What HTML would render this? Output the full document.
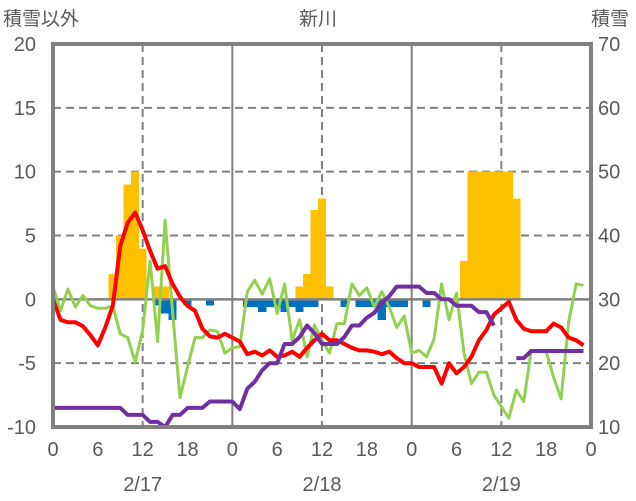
<!DOCTYPE html>
<html><head><meta charset="utf-8"><style>
body{margin:0;background:#fff;}
svg{display:block;font-family:"Liberation Sans","Noto Sans CJK JP",sans-serif;}
</style></head><body>
<svg id="chart" width="636" height="501" viewBox="0 0 636 501" xmlns="http://www.w3.org/2000/svg"></svg>
<script>
const hours = Array.from({length:72},(_,i)=>i);
const temperature = [0,-1.6,-1.8,-1.8,-2.1,-2.8,-3.6,-2.2,-0.5,4.2,6.0,6.8,5.4,3.8,2.4,2.6,1.2,0.2,-0.5,-0.9,-2.3,-2.9,-3.0,-2.7,
-3.0,-3.3,-4.3,-4.1,-4.4,-4.0,-4.5,-4.4,-4.1,-4.5,-3.8,-3.2,-2.7,-3.2,-3.2,-3.5,-3.8,-4.0,-4.0,-4.1,-4.3,-4.1,-4.6,-5.0,
-5.0,-5.3,-5.3,-5.3,-6.6,-5.0,-5.8,-5.3,-4.5,-3.2,-2.4,-1.2,-0.7,-0.2,-1.6,-2.3,-2.5,-2.5,-2.5,-1.9,-2.2,-3.0,-3.2,-3.6];
const greenSeries = [1.0,-0.9,0.8,-0.6,0.3,-0.5,-0.7,-0.7,-0.5,-2.7,-3.0,-4.9,-2.4,3.0,-3.3,6.2,-1.0,-7.7,-5.3,-3.0,-3.0,-2.4,-2.5,-4.2,
-3.8,-3.7,0.6,1.5,0.4,1.6,-1.1,1.2,-3.2,-1.6,-4.5,-2.0,-3.2,-4.2,-1.9,-1.9,1.2,0.3,0.9,-0.6,0.6,-0.6,-2.2,-1.3,
-4.2,-4.0,-4.5,-3.1,1.2,-1.6,0.5,-4.2,-6.6,-5.7,-5.7,-7.5,-8.4,-9.3,-7.1,-8.0,-4.0,-4.1,-4.1,-6.1,-7.8,-1.8,1.2,1.1];
const snowDepth = [13,13,13,13,13,13,13,13,13,13,11.9,11.9,11.9,10.8,10.8,10.0,11.9,11.9,13,13,13,14,14,14,
14,12.8,16,17.1,18.9,20,20,23,23,24.1,25.9,24.7,23,23,23,24.1,25.9,25.9,27.1,27.9,29.4,30.5,32,32,
32,32,31,31,30,30,29,29,29,28,28,25.9,null,null,20.8,20.8,21.9,21.9,21.9,21.9,21.9,21.9,21.9,21.9];
const snowfallHours = [8,9,10,11,12,14,15,33,34,35,36,37,55,56,57,58,59,60,61,62];
const snowfallValues = [2,5,9,10,4,1,1,1,2,7,7.9,1,3,10,10,10,10,10,10,7.9];
const blueHours = [14,15,16,18,21,26,27,28,29,30,31,32,33,34,35,39,41,42,43,44,45,46,47,50];
const blueValues = [-0.5,-1.1,-1.6,-0.5,-0.5,-0.6,-0.6,-1.0,-0.6,-0.6,-1.0,-0.6,-1.0,-0.6,-0.6,-0.6,-0.6,-0.6,-0.6,-1.6,-0.6,-0.6,-0.6,-0.6];
const leftTicks = [20,15,10,5,0,-5,-10];
const rightTicks = [70,60,50,40,30,20,10];
const xTickLabels = ["0","6","12","18"];
const dateLabels = ["2/17","2/18","2/19"];

const X0=53,X1=591,Y0=44,Y1=427;
const xs = h => X0 + (h/72)*(X1-X0);
const yl = v => Y1 - (v+10)/30*(Y1-Y0);
const yr = v => Y1 - (v-10)/60*(Y1-Y0);
const svg=document.getElementById('chart');
const NS='http://www.w3.org/2000/svg';
function mk(tag,at,parent){const e=document.createElementNS(NS,tag);for(const k in at)e.setAttribute(k,at[k]);(parent||svg).appendChild(e);return e;}

leftTicks.forEach(t=>{ if(t===0||t===20||t===-10) return;
 const g=mk('line',{x1:X0,x2:X1,y1:yl(t),y2:yl(t),stroke:'#808080','stroke-width':2,'stroke-dasharray':'8,5'});
 
 
});
[12,36,60].forEach(h=>{
 const g=mk('line',{x1:xs(h),x2:xs(h),y1:Y0,y2:Y1,stroke:'#808080','stroke-width':2,'stroke-dasharray':'8,5'});
 
 
});
[24,48].forEach(h=>{
 const g=mk('line',{x1:xs(h),x2:xs(h),y1:Y0,y2:Y1,stroke:'#808080','stroke-width':2});
 
 
});
const bw=(X1-X0)/72;
snowfallHours.forEach((h,i)=>{const v=snowfallValues[i];
 const r=mk('rect',{x:xs(h)-bw/2-0.3,y:yl(v),width:bw+0.6,height:yl(0)-yl(v),fill:'#FFC000','shape-rendering':'crispEdges'});
 
 
});
blueHours.forEach((h,i)=>{const v=blueValues[i];
 const r=mk('rect',{x:xs(h)-bw/2-0.3,y:yl(0),width:bw+0.6,height:yl(v)-yl(0),fill:'#0070C0','shape-rendering':'crispEdges'});
 
 
});
const zl=mk('line',{x1:X0,x2:X1,y1:yl(0),y2:yl(0),stroke:'#808080','stroke-width':2.5});



function pathFrom(arr,yf){let d='',pen=false;arr.forEach((v,i)=>{if(v===null){pen=false;return;}d+=(pen?'L':'M')+xs(hours[i]).toFixed(1)+','+yf(v).toFixed(1);pen=true;});return d;}
const gl=mk('path',{d:pathFrom(greenSeries,yl),fill:'none',stroke:'#92D050','stroke-width':3,'stroke-linejoin':'round'});


const rl=mk('path',{d:pathFrom(temperature,yl),fill:'none',stroke:'#FF0000','stroke-width':4,'stroke-linejoin':'round'});


const pl=mk('path',{d:pathFrom(snowDepth,yr),fill:'none',stroke:'#7030A0','stroke-width':4,'stroke-linejoin':'round'});



const fr=mk('rect',{x:X0,y:Y0,width:X1-X0,height:Y1-Y0,fill:'none',stroke:'#808080','stroke-width':4});



const txtStyle={fill:'#595959','font-size':20};
leftTicks.forEach(t=>{const e=mk('text',Object.assign({x:36,y:yl(t)+7,'text-anchor':'end'},txtStyle));e.textContent=t;
 
 });
rightTicks.forEach(t=>{const e=mk('text',Object.assign({x:598,y:yr(t)+7},txtStyle));e.textContent=t;
 
 });
for(let d=0;d<=3;d++){xTickLabels.forEach((l,j)=>{if(d===3&&j>0)return;
 const e=mk('text',Object.assign({x:xs(d*24+j*6),y:456,'text-anchor':'middle'},txtStyle));e.textContent=l;
 
 });}
dateLabels.forEach((l,i)=>{const e=mk('text',Object.assign({x:xs(i*24+12),y:491,'text-anchor':'middle'},txtStyle));e.textContent=l;
 
 });
const t1=mk('text',{x:3,y:25,fill:'#595959','font-size':19});t1.textContent='積雪以外';


const t2=mk('text',{x:591,y:25,fill:'#595959','font-size':19});t2.textContent='積雪';


const t3=mk('text',{x:318,y:25,fill:'#595959','font-size':19,'text-anchor':'middle'});t3.textContent='新川';


</script>
</body></html>
